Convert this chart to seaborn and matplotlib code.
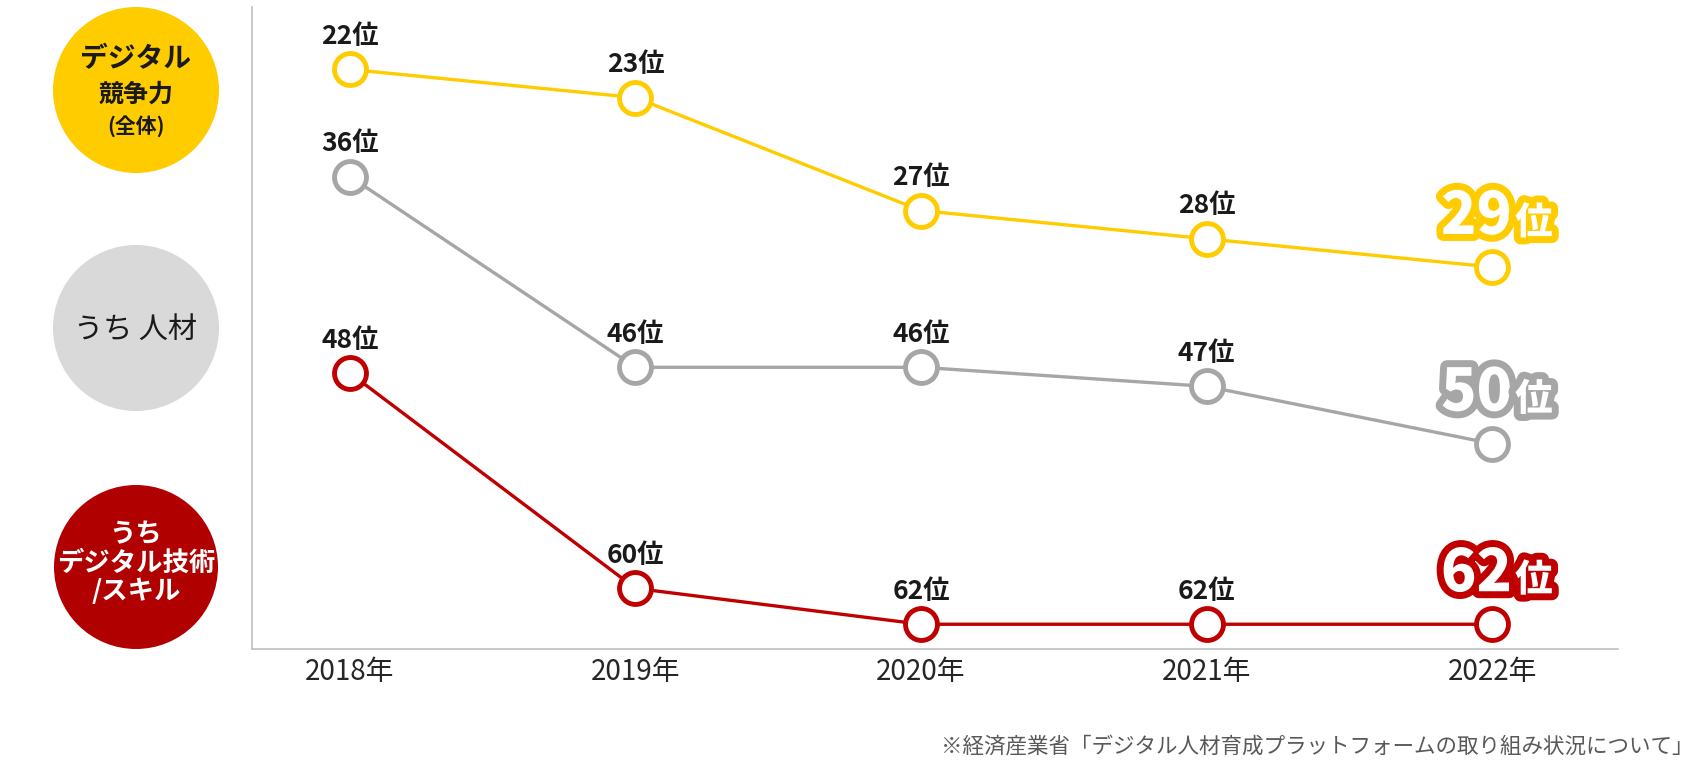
import matplotlib
matplotlib.use('Agg')
import matplotlib.pyplot as plt
import matplotlib.patheffects as pe
from matplotlib.patches import Circle
import seaborn as sns

# data
years = [2018, 2019, 2020, 2021, 2022]
year_labels = ['2018年', '2019年', '2020年', '2021年', '2022年']
digital_rank = [22, 23, 27, 28, 29]   # デジタル競争力(全体)
talent_rank = [36, 46, 46, 47, 50]    # うち 人材
skill_rank = [48, 60, 62, 62, 62]     # うち デジタル技術/スキル
rank_suffix = '位'
source_note = '※経済産業省「デジタル人材育成プラットフォームの取り組み状況について」'

sns.set_theme(style='white')
plt.rcParams['font.family'] = ['Noto Sans CJK JP', 'DejaVu Sans']

YELLOW = '#FFCC00'
GRAY = '#A6A6A6'
GRAY_BG = '#D9D9D9'
RED = '#C00000'
RED_BG = '#B00000'
TXT = '#1A1A1A'

fig = plt.figure(figsize=(17, 7.7), dpi=100)

# background layer in pixel units for the round badges on the left
bg = fig.add_axes([0, 0, 1, 1])
bg.set_xlim(0, 1700)
bg.set_ylim(770, 0)
bg.axis('off')

ax = fig.add_axes([252 / 1700, 1 - 649 / 770, (1618 - 252) / 1700, (649 - 7) / 770])
ax.set_xlim(2017.657, 2022.441)
ax.set_yticks([])
ax.set_xticks(years)
ax.set_xticklabels(year_labels, fontsize=20, color='#262626')
ax.tick_params(axis='x', length=0, pad=6)
for side in ['top', 'right']:
    ax.spines[side].set_visible(False)
for side in ['left', 'bottom']:
    ax.spines[side].set_color('#BFBFBF')
    ax.spines[side].set_linewidth(1.2)
ax.patch.set_alpha(0)

# each series sits on its own rank scale (the original is a stylised chart)
series = [
    (skill_rank, RED, (63.38, 27.59)),
    (talent_rank, GRAY, (60.77, 27.11)),
    (digital_rank, YELLOW, (42.53, 19.79)),
]

for ranks, color, ylim in series:
    tw = ax.twinx()
    tw.set_ylim(*ylim)
    tw.set_yticks([])
    for s in tw.spines.values():
        s.set_visible(False)
    sns.lineplot(x=years, y=ranks, ax=tw, color=color, linewidth=2.4,
                 marker='o', markersize=23, markerfacecolor='white',
                 markeredgecolor=color, markeredgewidth=3.5, clip_on=False)
    for yr, r in zip(years[:-1], ranks[:-1]):
        tw.annotate(f'{r}{rank_suffix}', (yr, r), xytext=(0, 33),
                    textcoords='offset pixels', ha='center', va='center',
                    fontsize=19, fontweight='bold', color=TXT)
    # highlighted latest rank
    stroke = [pe.withStroke(linewidth=10, foreground=color)]
    tw.annotate(f'{ranks[-1]}', (years[-1], ranks[-1]), xytext=(20, 33),
                textcoords='offset pixels', ha='right', va='baseline',
                fontsize=42, fontweight='black', color='white',
                path_effects=stroke)
    tw.annotate(rank_suffix, (years[-1], ranks[-1]), xytext=(23, 33),
                textcoords='offset pixels', ha='left', va='baseline',
                fontsize=27, fontweight='black', color='white',
                path_effects=stroke)

# badges
bg.add_patch(Circle((136, 90), 83, color=YELLOW, lw=0))
bg.add_patch(Circle((136, 328), 83, color=GRAY_BG, lw=0))
bg.add_patch(Circle((136, 567), 82, color=RED_BG, lw=0))

bg.text(136, 59, 'デジタル', ha='center', va='center', fontsize=20,
        fontweight='bold', color=TXT)
bg.text(136, 95, '競争力', ha='center', va='center', fontsize=18,
        fontweight='bold', color=TXT)
bg.text(136, 126, '(全体)', ha='center', va='center', fontsize=15,
        fontweight='bold', color=TXT)
bg.text(136, 330, 'うち 人材', ha='center', va='center', fontsize=21,
        color=TXT)
bg.text(136, 563, 'うち\nデジタル技術\n/スキル', ha='center', va='center',
        fontsize=19, fontweight='bold', color='white', linespacing=1.05)

fig.text(1694 / 1700, 1 - 748 / 770, source_note, ha='right', va='center',
         fontsize=15.5, color='#595959')

fig.savefig('out.png', dpi=100)
